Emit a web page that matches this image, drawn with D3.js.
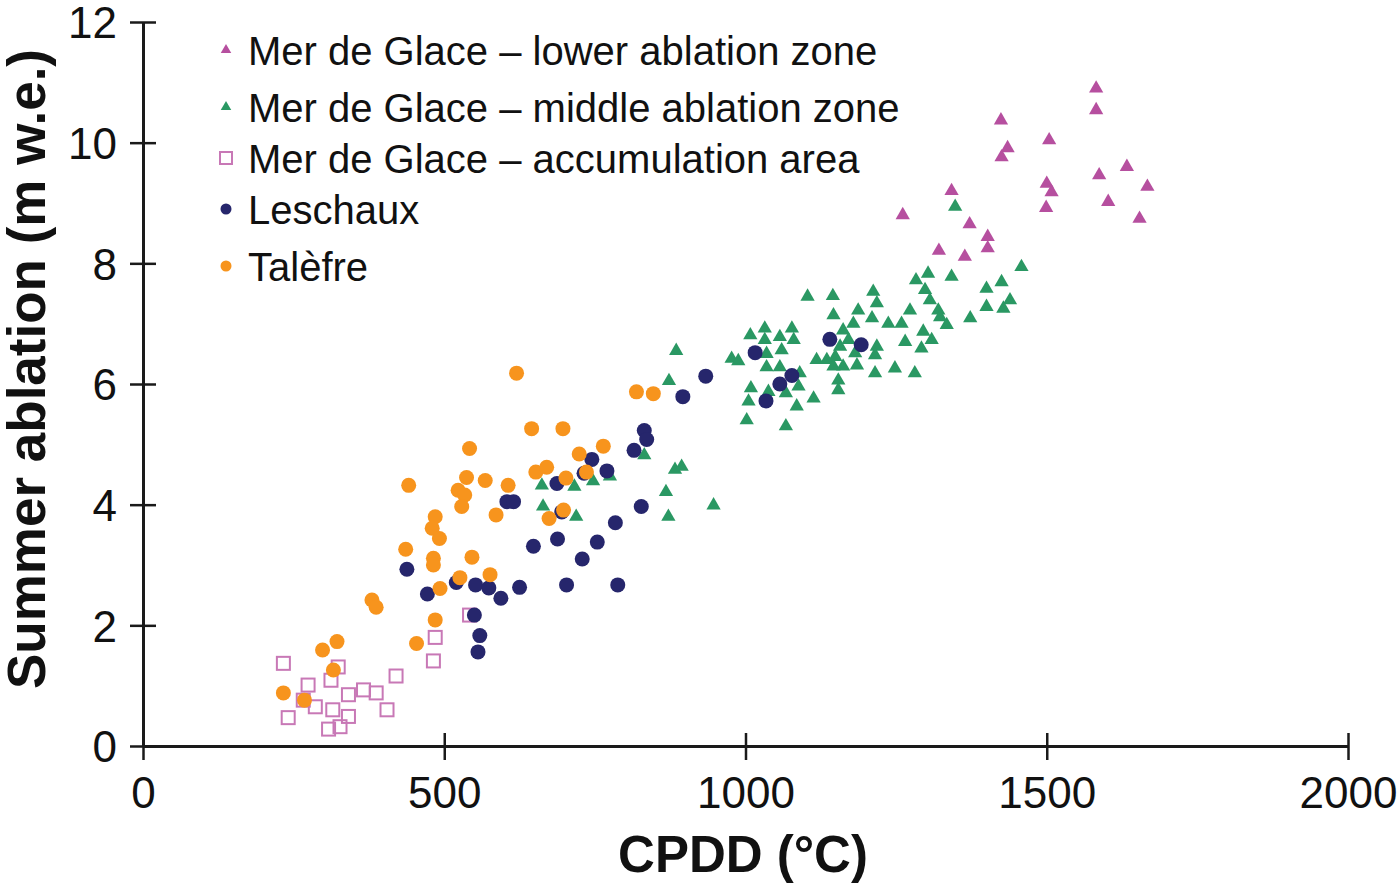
<!DOCTYPE html>
<html>
<head>
<meta charset="utf-8">
<script src="https://cdn.jsdelivr.net/npm/d3@7"></script>
<style>
  html, body { margin: 0; padding: 0; background: #fff; }
  text { font-family: "Liberation Sans", Arial, sans-serif; fill: #111; }
</style>
</head>
<body>
<div id="chart"></div>
<script>
// Mer de Glace - lower ablation zone [CPDD, ablation]
const lowerZone = [
  [1582, 10.90], [1582, 10.54], [1424, 10.37], [1435, 9.91], [1425, 9.76], [1504, 10.04],
  [1500, 9.32], [1508, 9.18], [1499, 8.92], [1587, 9.46], [1633, 9.60], [1667, 9.27],
  [1602, 9.02], [1654, 8.74], [1342, 9.20], [1261, 8.80], [1372, 8.65], [1402, 8.44],
  [1402, 8.25], [1321, 8.21], [1364, 8.11]
];

// Mer de Glace - middle ablation zone
const middleZone = [
  [662, 4.32], [716, 4.30], [747, 4.39], [775, 4.47], [664, 3.97], [719, 3.80],
  [832, 4.82], [883, 4.58], [894, 4.63], [868, 4.21], [872, 3.80], [947, 3.99],
  [885, 6.55], [873, 6.05], [977, 6.42], [988, 6.38], [1002, 5.40], [1005, 5.71],
  [1009, 5.93], [1008, 6.81], [1032, 6.92], [1032, 6.73], [1035, 6.50], [1035, 6.28],
  [1038, 5.87], [1057, 6.78], [1060, 6.56], [1057, 6.28], [1077, 6.92], [1080, 6.73],
  [1090, 6.18], [1088, 5.96], [1067, 5.85], [1085, 5.63], [1067, 5.30], [1113, 5.76],
  [1118, 6.40], [1103, 7.45], [1145, 7.46], [1146, 7.14], [1135, 6.40], [1149, 6.45],
  [1157, 6.62], [1162, 6.89], [1171, 6.73], [1179, 7.00], [1182, 6.51], [1185, 6.31],
  [1162, 6.29], [1146, 6.29], [1154, 6.06], [1154, 5.90], [1187, 7.22], [1212, 7.53],
  [1218, 7.34], [1210, 7.09], [1237, 7.00], [1259, 7.00], [1273, 7.22], [1218, 6.62],
  [1215, 6.48], [1215, 6.18], [1248, 6.26], [1281, 6.18], [1265, 6.70], [1292, 6.59],
  [1295, 6.87], [1309, 6.73], [1283, 7.72], [1303, 7.83], [1298, 7.56], [1306, 7.39],
  [1320, 7.22], [1323, 7.11], [1334, 6.98], [1342, 7.78], [1373, 7.09], [1400, 7.58],
  [1425, 7.69], [1400, 7.28], [1428, 7.25], [1439, 7.39], [1458, 7.94], [1348, 8.94]
];

// Mer de Glace - accumulation area
const accumulationArea = [
  [233, 1.37], [274, 1.01], [324, 1.31], [312, 1.09], [266, 0.76], [286, 0.65],
  [315, 0.60], [341, 0.85], [366, 0.93], [387, 0.88], [420, 1.16], [405, 0.60],
  [341, 0.49], [241, 0.47], [308, 0.28], [327, 0.32], [485, 1.80], [482, 1.41],
  [542, 2.17]
];

// Leschaux
const leschaux = [
  [438, 2.93], [472, 2.52], [520, 2.71], [552, 2.67], [574, 2.62], [594, 2.45],
  [625, 2.63], [703, 2.67], [788, 2.67], [550, 2.17], [559, 1.83], [556, 1.56],
  [648, 3.31], [688, 3.43], [729, 3.10], [754, 3.38], [784, 3.70], [827, 3.97],
  [604, 4.05], [615, 4.05], [687, 4.35], [695, 3.88], [732, 4.52], [745, 4.75],
  [770, 4.56], [815, 4.90], [832, 5.23], [836, 5.08], [896, 5.79], [934, 6.13],
  [1016, 6.52], [1057, 6.00], [1077, 6.14], [1034, 5.72], [1140, 6.74], [1192, 6.65]
];

// Talèfre
const talefre = [
  [233, 0.88], [268, 0.76], [316, 1.26], [298, 1.59], [322, 1.73], [380, 2.42],
  [387, 2.30], [436, 3.26], [441, 4.32], [454, 1.70], [485, 2.09], [482, 3.11],
  [482, 3.00], [485, 3.80], [480, 3.61], [492, 3.44], [493, 2.61], [526, 2.79],
  [523, 4.24], [534, 4.16], [529, 3.97], [537, 4.45], [542, 4.93], [546, 3.13],
  [568, 4.40], [576, 2.84], [586, 3.83], [606, 4.32], [620, 6.18], [645, 5.26],
  [652, 4.54], [670, 4.62], [674, 3.77], [697, 5.26], [698, 3.91], [702, 4.44],
  [724, 4.84], [736, 4.54], [764, 4.97], [819, 5.87], [847, 5.84]
];

const xTicks = [0, 500, 1000, 1500, 2000];
const yTicks = [0, 2, 4, 6, 8, 10, 12];

const seriesNames = [
  "Mer de Glace – lower ablation zone",
  "Mer de Glace – middle ablation zone",
  "Mer de Glace – accumulation area",
  "Leschaux",
  "Talèfre"
];

const width = 1400;
const height = 892;

const x = d3.scaleLinear().domain([0, 2000]).range([143, 1348]);
const y = d3.scaleLinear().domain([0, 12]).range([746, 22]);

const svg = d3.select("#chart")
  .append("svg")
  .attr("width", width)
  .attr("height", height);

// gaya tiap seri
const series = [
  { name: seriesNames[0], data: lowerZone, shape: "tri", color: "#b64f9f" },
  { name: seriesNames[1], data: middleZone, shape: "tri", color: "#2a9863" },
  { name: seriesNames[2], data: accumulationArea, shape: "sq", color: "#c878b6" },
  { name: seriesNames[3], data: leschaux, shape: "dot", color: "#26266c" },
  { name: seriesNames[4], data: talefre, shape: "dot", color: "#f7941d" }
];

const triangle = d3.symbol().type(d3.symbolTriangle);

function drawMarker(sel, s, big) {
  if (s.shape === "tri") {
    sel.append("path")
      .attr("d", triangle.size(big ? 88 : 48)())
      .attr("fill", s.color);
  } else if (s.shape === "sq") {
    const h = big ? 6.5 : 6;
    sel.append("rect")
      .attr("x", -h).attr("y", -h)
      .attr("width", 2 * h).attr("height", 2 * h)
      .attr("fill", "none")
      .attr("stroke", s.color)
      .attr("stroke-width", 2);
  } else {
    sel.append("circle")
      .attr("r", big ? 7.5 : 5.5)
      .attr("fill", s.color);
  }
}

// titik data
series.forEach((s) => {
  const g = svg.append("g");
  g.selectAll("g")
    .data(s.data)
    .enter()
    .append("g")
    .attr("transform", (d) => `translate(${x(d[0])},${y(d[1])})`)
    .each(function () { drawMarker(d3.select(this), s, true); });
});

// sumbu
const xAxis = svg.append("g")
  .attr("transform", `translate(0,${y(0)})`)
  .call(d3.axisBottom(x).tickValues(xTicks).tickFormat(d3.format("d")).tickSizeOuter(0).tickPadding(0));

xAxis.select(".domain").attr("stroke", "#1a1a1a").attr("stroke-width", 3);
xAxis.selectAll(".tick line").attr("y1", -13).attr("y2", 14).attr("stroke", "#1a1a1a").attr("stroke-width", 2.5);
xAxis.selectAll(".tick text")
  .attr("y", 62).attr("dy", 0)
  .attr("font-size", "44px")
  .attr("font-family", "'Liberation Sans', Arial, sans-serif")
  .attr("fill", "#111");

const yAxis = svg.append("g")
  .attr("transform", `translate(${x(0)},0)`)
  .call(d3.axisLeft(y).tickValues(yTicks).tickFormat(d3.format("d")).tickSizeOuter(0).tickPadding(0));

yAxis.select(".domain").attr("stroke", "#1a1a1a").attr("stroke-width", 3);
yAxis.selectAll(".tick line").attr("x1", -13).attr("x2", 13).attr("stroke", "#1a1a1a").attr("stroke-width", 2.5);
yAxis.selectAll(".tick text")
  .attr("x", -26).attr("dy", "0.36em")
  .attr("font-size", "44px")
  .attr("font-family", "'Liberation Sans', Arial, sans-serif")
  .attr("fill", "#111");

// judul sumbu
svg.append("text")
  .attr("x", 743)
  .attr("y", 872)
  .attr("text-anchor", "middle")
  .attr("font-size", "51px")
  .attr("font-weight", "bold")
  .text("CPDD (°C)");

svg.append("text")
  .attr("transform", "translate(45,369) rotate(-90)")
  .attr("text-anchor", "middle")
  .attr("font-size", "53px")
  .attr("font-weight", "bold")
  .text("Summer ablation (m w.e.)");

// legenda
const legendRows = [50, 107, 158, 209, 266];
const legend = svg.append("g");
series.forEach((s, i) => {
  const row = legend.append("g").attr("transform", `translate(226,${legendRows[i]})`);
  drawMarker(row, s, false);
  row.append("text")
    .attr("x", 22)
    .attr("y", 15)
    .attr("font-size", "40px")
    .text(s.name);
});
</script>
</body>
</html>
